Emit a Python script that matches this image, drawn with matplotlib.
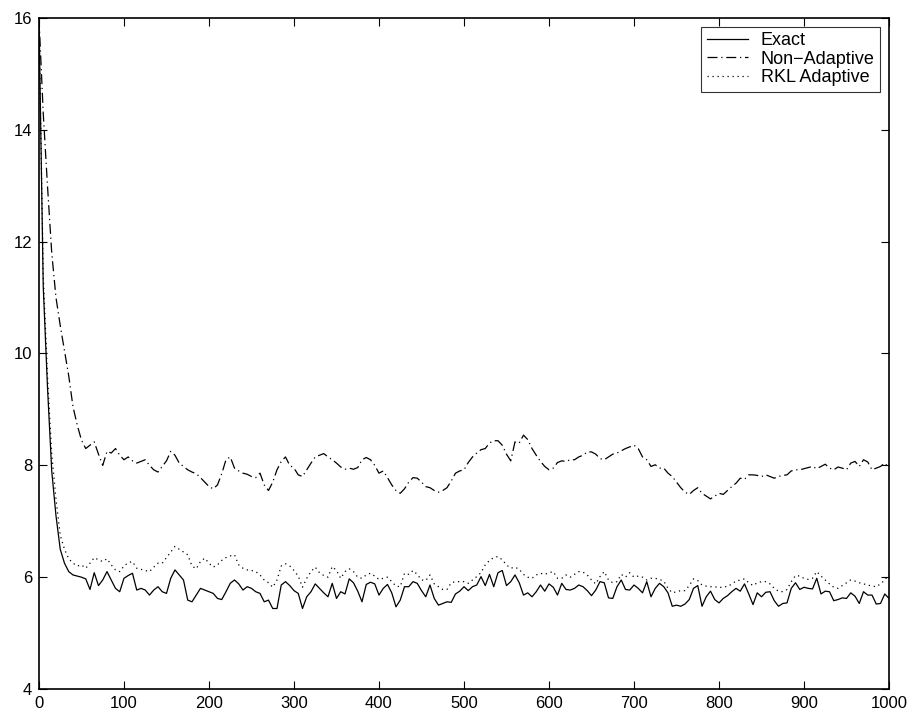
import numpy as np
import matplotlib
matplotlib.use("Agg")
import matplotlib.pyplot as plt

exact = [
    16.0, 11.2, 9.4, 7.9, 7.1, 6.5, 6.25, 6.1, 6.04, 6.02, 6.0, 5.97, 5.78, 6.08, 5.85, 5.95, 6.10, 5.95, 5.80, 5.74,
    5.98, 6.03, 6.07, 5.77, 5.80, 5.77, 5.68, 5.77, 5.83, 5.74, 5.71, 5.98, 6.13, 6.04, 5.95, 5.59, 5.56, 5.68, 5.80, 5.77,
    5.74, 5.71, 5.62, 5.60, 5.74, 5.89, 5.95, 5.88, 5.77, 5.83, 5.80, 5.74, 5.71, 5.56, 5.59, 5.44, 5.44, 5.86, 5.92, 5.85,
    5.76, 5.71, 5.44, 5.65, 5.74, 5.88, 5.80, 5.72, 5.65, 5.89, 5.62, 5.74, 5.70, 5.97, 5.90, 5.75, 5.56, 5.87, 5.91, 5.88,
    5.68, 5.80, 5.87, 5.72, 5.47, 5.59, 5.83, 5.83, 5.92, 5.89, 5.76, 5.65, 5.86, 5.62, 5.50, 5.53, 5.56, 5.55, 5.70, 5.75,
    5.83, 5.76, 5.83, 5.86, 6.01, 5.85, 6.05, 5.83, 6.08, 6.12, 5.85, 5.92, 6.04, 5.90, 5.68, 5.72, 5.65, 5.74, 5.86, 5.75,
    5.88, 5.82, 5.68, 5.89, 5.78, 5.77, 5.80, 5.86, 5.83, 5.76, 5.67, 5.77, 5.92, 5.90, 5.63, 5.62, 5.83, 5.95, 5.78, 5.77,
    5.86, 5.80, 5.72, 5.92, 5.65, 5.80, 5.89, 5.83, 5.72, 5.48, 5.50, 5.48, 5.52, 5.60, 5.80, 5.85, 5.48, 5.65, 5.75, 5.60,
    5.54, 5.62, 5.67, 5.74, 5.80, 5.75, 5.88, 5.70, 5.51, 5.72, 5.65, 5.73, 5.74, 5.58, 5.48, 5.53, 5.54, 5.80, 5.90, 5.78,
    5.82, 5.80, 5.79, 5.98, 5.70, 5.75, 5.74, 5.58, 5.60, 5.63, 5.62, 5.72, 5.66, 5.53, 5.74, 5.68, 5.68, 5.52, 5.53, 5.70,
    5.62,
]

non_adaptive = [
    16.0, 14.3, 13.0, 11.8, 11.0, 10.5, 10.05, 9.6, 9.05, 8.72, 8.45, 8.30, 8.36, 8.42, 8.20, 8.00, 8.25, 8.22, 8.30, 8.18,
    8.10, 8.15, 8.08, 8.04, 8.07, 8.10, 8.00, 7.92, 7.88, 7.98, 8.08, 8.25, 8.18, 8.04, 7.98, 7.92, 7.88, 7.85, 7.78, 7.70,
    7.62, 7.58, 7.65, 7.85, 8.10, 8.15, 7.95, 7.90, 7.86, 7.84, 7.80, 7.78, 7.86, 7.65, 7.55, 7.70, 7.92, 8.07, 8.15, 8.00,
    7.95, 7.83, 7.80, 7.92, 8.04, 8.15, 8.18, 8.21, 8.15, 8.10, 8.04, 7.97, 7.93, 7.95, 7.93, 7.96, 8.10, 8.14, 8.10, 8.00,
    7.86, 7.90, 7.78, 7.65, 7.55, 7.50, 7.58, 7.70, 7.78, 7.77, 7.70, 7.62, 7.60, 7.55, 7.52, 7.55, 7.60, 7.72, 7.86, 7.90,
    7.92, 8.05, 8.15, 8.22, 8.28, 8.30, 8.40, 8.44, 8.44, 8.36, 8.20, 8.08, 8.42, 8.40, 8.54, 8.46, 8.30, 8.18, 8.07, 7.98,
    7.92, 7.95, 8.05, 8.08, 8.07, 8.10, 8.10, 8.15, 8.18, 8.24, 8.24, 8.20, 8.12, 8.10, 8.15, 8.20, 8.22, 8.26, 8.30, 8.33,
    8.36, 8.30, 8.15, 8.10, 7.98, 8.01, 7.95, 7.95, 7.86, 7.80, 7.70, 7.60, 7.52, 7.48, 7.55, 7.60, 7.50, 7.45, 7.40, 7.45,
    7.50, 7.48, 7.55, 7.62, 7.68, 7.77, 7.75, 7.83, 7.83, 7.82, 7.80, 7.83, 7.80, 7.77, 7.80, 7.82, 7.83, 7.90, 7.92, 7.92,
    7.94, 7.96, 7.98, 7.94, 7.98, 8.02, 7.95, 7.92, 7.97, 7.95, 7.92, 8.04, 8.07, 7.98, 8.10, 8.06, 7.92, 7.95, 7.98, 8.04,
    7.95,
]

rkl_adaptive = [
    16.0, 11.4, 9.6, 8.2, 7.4, 6.75, 6.50, 6.33, 6.25, 6.20, 6.22, 6.16, 6.25, 6.35, 6.31, 6.28, 6.33, 6.22, 6.13, 6.10,
    6.20, 6.26, 6.28, 6.16, 6.14, 6.12, 6.10, 6.18, 6.25, 6.25, 6.35, 6.45, 6.55, 6.50, 6.45, 6.40, 6.20, 6.15, 6.28, 6.34,
    6.25, 6.18, 6.22, 6.30, 6.35, 6.38, 6.40, 6.22, 6.16, 6.13, 6.12, 6.10, 6.04, 5.95, 5.90, 5.82, 5.95, 6.20, 6.24, 6.20,
    6.12, 6.02, 5.82, 5.98, 6.10, 6.18, 6.08, 6.03, 6.00, 6.19, 6.12, 5.98, 6.10, 6.15, 6.10, 6.00, 5.98, 6.04, 6.07, 6.02,
    5.96, 5.98, 6.00, 5.92, 5.84, 5.83, 6.07, 6.05, 6.12, 6.05, 5.95, 5.94, 6.04, 5.88, 5.83, 5.78, 5.78, 5.90, 5.92, 5.92,
    5.92, 5.89, 5.95, 6.01, 6.08, 6.22, 6.30, 6.35, 6.37, 6.31, 6.22, 6.16, 6.18, 6.14, 6.05, 6.00, 5.98, 6.04, 6.07, 6.05,
    6.08, 6.10, 5.98, 5.98, 6.04, 6.00, 6.05, 6.10, 6.09, 6.04, 5.95, 5.88, 6.01, 6.10, 5.95, 5.90, 5.92, 6.05, 6.00, 6.08,
    6.00, 6.02, 6.00, 5.95, 5.98, 5.98, 5.96, 5.93, 5.80, 5.72, 5.74, 5.76, 5.76, 5.85, 5.97, 5.94, 5.86, 5.84, 5.83, 5.83,
    5.81, 5.83, 5.83, 5.88, 5.93, 5.95, 5.97, 5.90, 5.85, 5.90, 5.92, 5.92, 5.88, 5.80, 5.75, 5.74, 5.78, 5.92, 6.03, 6.02,
    5.98, 5.96, 5.98, 6.10, 6.02, 5.95, 5.88, 5.82, 5.80, 5.85, 5.90, 5.95, 5.93, 5.90, 5.88, 5.86, 5.84, 5.83, 5.88, 5.95,
    6.05,
]

x_ticks = [0, 100, 200, 300, 400, 500, 600, 700, 800, 900, 1000]
y_ticks = [4, 6, 8, 10, 12, 14, 16]

plt.rcParams['font.family'] = ['Liberation Sans', 'DejaVu Sans']

fig = plt.figure(figsize=(9.15, 7.17), dpi=100)
ax = fig.add_axes([0.0426, 0.039, 0.9290, 0.936])

x = np.arange(len(exact)) * 5
ax.plot(x, exact, color='black', linewidth=0.9, linestyle='-', label='Exact')
ax.plot(np.arange(len(non_adaptive)) * 5, non_adaptive, color='black', linewidth=0.9,
        dashes=(8, 3, 1, 3), label='Non\u2212Adaptive')
ax.plot(np.arange(len(rkl_adaptive)) * 5, rkl_adaptive, color='black', linewidth=0.9,
        dashes=(1, 3), label='RKL Adaptive')

ax.set_xlim(0, 1000)
ax.set_ylim(4, 16)
ax.set_xticks(x_ticks)
ax.set_yticks(y_ticks)
ax.tick_params(direction='in', length=6, width=0.8, top=True, right=True,
               labelsize=12, pad=5)
for s in ax.spines.values():
    s.set_linewidth(1.2)

leg = ax.legend(loc='upper right', fontsize=13, frameon=True, fancybox=False,
                edgecolor='black', handlelength=2.3, handletextpad=0.7,
                borderaxespad=0.5, labelspacing=0.08, borderpad=0.3)
leg.get_frame().set_linewidth(0.8)

fig.savefig('out.png', dpi=100)
